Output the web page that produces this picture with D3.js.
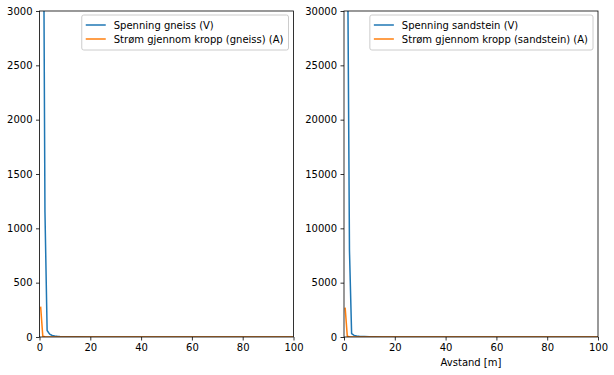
<!DOCTYPE html>
<html>
<head>
<meta charset="utf-8">
<script src="https://cdn.jsdelivr.net/npm/d3@7"></script>
<style>
  body { margin: 0; background: #fff; }
  svg { font-family: "DejaVu Sans", sans-serif; }
  .tick text { font-size: 10px; fill: #000; }
</style>
</head>
<body>
<div id="chart"></div>
<script>
// distance [m]
var avstand = [0.45, 1.3, 2.15, 3.0, 4, 5, 6, 7, 8, 10, 12, 15, 20, 30, 50, 100];

// gneiss
var spenningGneiss = [null, 5300, 1150, 60, 26, 14, 9, 6, 4.5, 3, 2, 1.2, 0.7, 0.3, 0.1, 0.03];
var stromGneiss = [280, 6, 1.5, 0.6, 0.3, 0.2, 0.1, 0.08, 0.06, 0.04, 0.03, 0.02, 0.01, 0.005, 0.002, 0.001];

// sandstein
var spenningSandstein = [null, 40000, 8000, 300, 150, 100, 70, 50, 40, 25, 18, 10, 6, 3, 1, 0.3];
var stromSandstein = [2700, 60, 15, 6, 3, 2, 1, 0.8, 0.6, 0.4, 0.3, 0.2, 0.1, 0.05, 0.02, 0.01];

var xTicks = [0, 20, 40, 60, 80, 100];
var yTicksGneiss = [0, 500, 1000, 1500, 2000, 2500, 3000];
var yTicksSandstein = [0, 5000, 10000, 15000, 20000, 25000, 30000];

var panels = [
  {left: 39.5, right: 293.5, ymax: 3000, yticks: yTicksGneiss,
   v: spenningGneiss, a: stromGneiss, xlabel: null,
   labels: ["Spenning gneiss (V)", "Strøm gjennom kropp (gneiss) (A)"]},
  {left: 344, right: 598, ymax: 30000, yticks: yTicksSandstein,
   v: spenningSandstein, a: stromSandstein, xlabel: "Avstand [m]",
   labels: ["Spenning sandstein (V)", "Strøm gjennom kropp (sandstein) (A)"]}
];

var width = 614, height = 375, plotTop = 11, plotBottom = 337,
    colors = ["#1f77b4", "#ff7f0e"];

var svg = d3.select("#chart").append("svg")
  .attr("width", width)
  .attr("height", height);

panels.forEach(function(p, k) {
  var x = d3.scaleLinear().domain([0, 100]).range([p.left, p.right]);
  var y = d3.scaleLinear().domain([0, p.ymax]).range([plotBottom, plotTop]);

  svg.append("clipPath").attr("id", "clip" + k)
    .append("rect")
    .attr("x", p.left).attr("y", plotTop)
    .attr("width", p.right - p.left).attr("height", plotBottom - plotTop);

  var g = svg.append("g");

  [p.v, p.a].forEach(function(vals, i) {
    var line = d3.line()
      .defined(function(d) { return d != null; })
      .x(function(d, j) { return x(avstand[j]); })
      .y(function(d) { return y(d); });
    g.append("path")
      .datum(vals)
      .attr("clip-path", "url(#clip" + k + ")")
      .attr("fill", "none")
      .attr("stroke", colors[i])
      .attr("stroke-width", 1.5)
      .attr("stroke-linejoin", "round")
      .attr("d", line);
  });

  // axes
  var xAxis = g.append("g")
    .attr("transform", "translate(0," + plotBottom + ")")
    .call(d3.axisBottom(x).tickValues(xTicks).tickSizeOuter(0).tickSize(3.5).tickPadding(3.5));
  var yAxis = g.append("g")
    .attr("transform", "translate(" + p.left + ",0)")
    .call(d3.axisLeft(y).tickValues(p.yticks).tickFormat(d3.format("d")).tickSizeOuter(0).tickSize(3.5).tickPadding(3.5));
  [xAxis, yAxis].forEach(function(a) {
    a.select(".domain").remove();
    a.selectAll(".tick line").attr("stroke", "#000").attr("stroke-width", 0.8);
    a.selectAll(".tick text").style("font-family", "DejaVu Sans");
  });

  // frame
  g.append("rect")
    .attr("x", p.left).attr("y", plotTop)
    .attr("width", p.right - p.left).attr("height", plotBottom - plotTop)
    .attr("fill", "none").attr("stroke", "#000").attr("stroke-width", 0.8);

  if (p.xlabel) {
    g.append("text")
      .attr("x", (p.left + p.right) / 2)
      .attr("y", 366)
      .attr("text-anchor", "middle")
      .style("font-size", "10px")
      .text(p.xlabel);
  }

  // legend
  var leg = g.append("g");
  var box = leg.append("rect");
  var texts = p.labels.map(function(t, i) {
    return leg.append("text")
      .attr("y", 25 + i * 14)
      .attr("dy", ".35em")
      .style("font-size", "10px")
      .text(t);
  });
  var tw = d3.max(texts, function(t) { return t.node().getComputedTextLength(); });
  var bw = 4 + 20 + 8 + tw + 5;
  var bx = p.right - 5 - bw;
  box.attr("x", bx).attr("y", 15)
    .attr("width", bw).attr("height", 35)
    .attr("rx", 2)
    .attr("fill", "#fff").attr("fill-opacity", 0.8)
    .attr("stroke", "#ccc").attr("stroke-width", 1);
  texts.forEach(function(t, i) {
    t.attr("x", bx + 32);
    leg.append("line")
      .attr("x1", bx + 4).attr("x2", bx + 24)
      .attr("y1", 25 + i * 14).attr("y2", 25 + i * 14)
      .attr("stroke", colors[i]).attr("stroke-width", 1.5);
  });
});
</script>
</body>
</html>
